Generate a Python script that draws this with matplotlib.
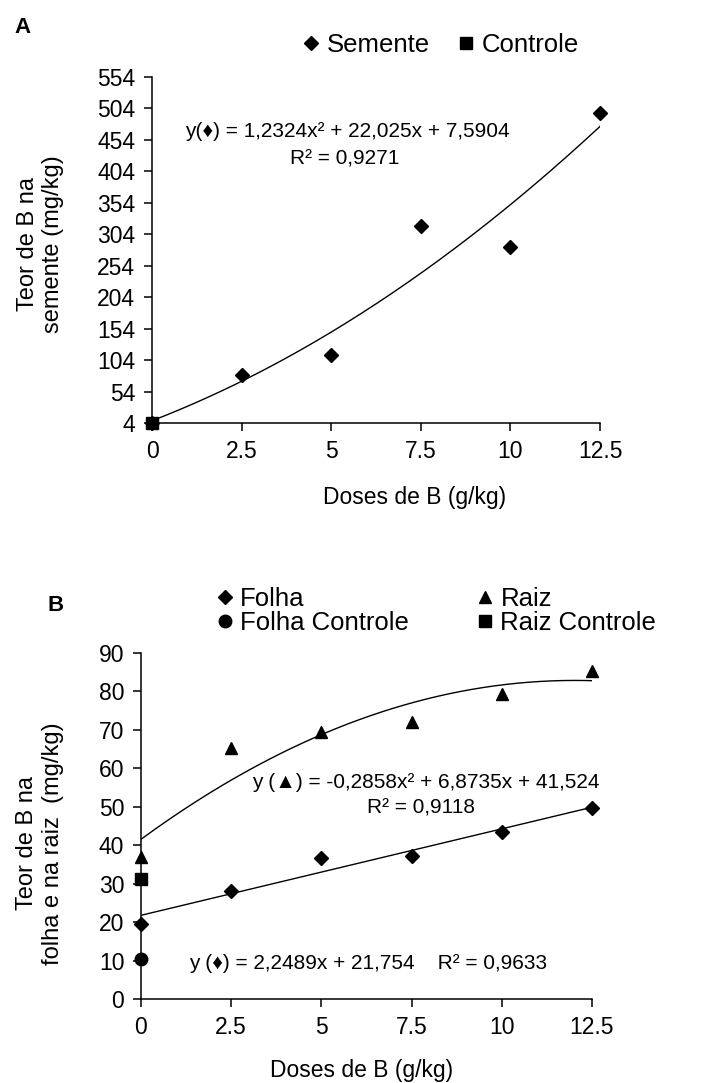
import numpy as np
import matplotlib.pyplot as plt

plt.rcParams['font.family'] = ['Liberation Sans', 'DejaVu Sans']
plt.rcParams['font.size'] = 15
plt.rcParams['axes.linewidth'] = 1.1

# Teor de B na semente
doses = [0, 2.5, 5, 7.5, 10, 12.5]
semente = [4, 80, 112, 317, 283, 497]
controle_semente = [4]

# Teor de B na folha e na raiz
folha = [19.5, 28.1, 36.6, 37.2, 43.5, 49.6]
raiz = [36.8, 65.2, 69.4, 72.1, 79.3, 85.4]
folha_controle = [10.4]
raiz_controle = [31.3]

eq_semente = [1.2324, 22.025, 7.5904]
eq_raiz = [-0.2858, 6.8735, 41.524]
eq_folha = [2.2489, 21.754]

xticks = [0, 2.5, 5, 7.5, 10, 12.5]
xticklabels = ['0', '2.5', '5', '7.5', '10', '12.5']
yticks_a = list(range(4, 555, 50))
yticks_b = list(range(0, 91, 10))

fig = plt.figure(figsize=(7.16, 10.83), dpi=100)
ax1 = fig.add_axes([0.2123, 0.6094, 0.6257, 0.3195])
ax2 = fig.add_axes([0.1969, 0.0776, 0.6299, 0.3195])

xs = np.linspace(0, 12.5, 200)

# painel A
ax1.plot(xs, np.polyval(eq_semente, xs), color='black', lw=1.0)
ax1.plot(doses, semente, 'D', color='black', ms=7, ls='none',
         label='Semente', clip_on=False)
ax1.plot([0], controle_semente, 's', color='black', ms=8.5, ls='none',
         label='Controle', clip_on=False, zorder=5)
ax1.set_xlim(0, 12.5)
ax1.set_ylim(4, 554)
ax1.set_yticks(yticks_a)
ax1.set_ylabel('Teor de B na\nsemente (mg/kg)', fontsize=17)
ax1.yaxis.set_label_coords(-0.196, 0.517)
ax1.set_xlabel('Doses de B (g/kg)', fontsize=16.5)
ax1.xaxis.set_label_coords(0.587, -0.182)
ax1.text(0.92, 467, 'y(♦) = 1,2324x² + 22,025x + 7,5904', ha='left',
         va='center', fontsize=15)
ax1.text(5.39, 424, 'R² = 0,9271', ha='center', va='center', fontsize=15)
ax1.legend(loc='center', bbox_to_anchor=(0.616, 0.958),
           bbox_transform=fig.transFigure, ncol=2, frameon=False,
           fontsize=18.5, handlelength=0.6, handletextpad=0.3,
           columnspacing=1.1)
fig.text(0.02, 0.975, 'A', fontsize=16, fontweight='bold', va='center')

# painel B
ax2.plot(xs, np.polyval(eq_raiz, xs), color='black', lw=1.0)
ax2.plot(xs, np.polyval(eq_folha, xs), color='black', lw=1.0)
ax2.plot(doses, folha, 'D', color='black', ms=7, ls='none', label='Folha',
         clip_on=False)
ax2.plot([0], folha_controle, 'o', color='black', ms=9, ls='none',
         label='Folha Controle', clip_on=False)
ax2.plot(doses, raiz, '^', color='black', ms=8.5, ls='none', label='Raiz',
         clip_on=False)
ax2.plot([0], raiz_controle, 's', color='black', ms=8.5, ls='none',
         label='Raiz Controle', clip_on=False)
ax2.set_xlim(0, 12.5)
ax2.set_ylim(0, 90)
ax2.set_yticks(yticks_b)
ax2.set_ylabel('Teor de B na\nfolha e na raiz  (mg/kg)', fontsize=17)
ax2.yaxis.set_label_coords(-0.171, 0.45)
ax2.set_xlabel('Doses de B (g/kg)', fontsize=16.5)
ax2.xaxis.set_label_coords(0.49, -0.173)
ax2.text(3.08, 56.2, 'y (▲) = -0,2858x² + 6,8735x + 41,524', ha='left',
         va='center', fontsize=15)
ax2.text(7.76, 49.7, 'R² = 0,9118', ha='center', va='center', fontsize=15)
ax2.text(6.29, 9.1, 'y (♦) = 2,2489x + 21,754    R² = 0,9633', ha='center',
         va='center', fontsize=15)
ax2.legend(loc='center', bbox_to_anchor=(0.61, 0.436),
           bbox_transform=fig.transFigure, ncol=2, frameon=False,
           fontsize=18.5, handlelength=0.6, handletextpad=0.3,
           columnspacing=2.65, labelspacing=0.0)
fig.text(0.067, 0.441, 'B', fontsize=16, fontweight='bold', va='center')

for ax in (ax1, ax2):
    ax.spines['top'].set_visible(False)
    ax.spines['right'].set_visible(False)
    ax.set_xticks(xticks)
    ax.set_xticklabels(xticklabels)
    ax.tick_params(direction='out', length=6, width=1.1, labelsize=16.5,
                   pad=6)

fig.savefig('out.png', dpi=100)
